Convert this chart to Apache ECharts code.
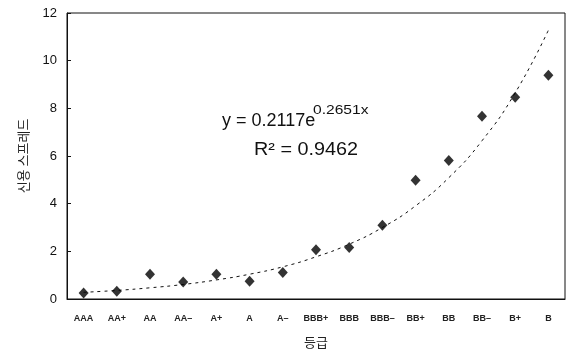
<!DOCTYPE html>
<html>
<head>
<meta charset="utf-8">
<script src="https://cdn.jsdelivr.net/npm/echarts@6/dist/echarts.min.js"></script>
<style>
html,body{margin:0;padding:0;background:#fff;}
#main{width:566px;height:354px;}
</style>
</head>
<body>
<div id="main"></div>
<script>
// 등급 (rating grades)
var grades = ['AAA','AA+','AA','AA\u2013','A+','A','A\u2013','BBB+','BBB','BBB\u2013','BB+','BB','BB\u2013','B+','B'];
// 신용 스프레드 observed
var spreads = [0.25,0.32,1.04,0.71,1.04,0.74,1.11,2.07,2.16,3.09,4.98,5.81,7.67,8.46,9.39];
// dashed trend curve, read at each grade
var trendValues = [0.28,0.36,0.47,0.61,0.80,1.04,1.35,1.77,2.30,3.00,3.91,5.09,6.64,8.65,11.28];
var yTicks = [0,12,2]; // min, max, step

var chart = echarts.init(document.getElementById('main'));
var option = {
	backgroundColor:'#fff',
	animation:false,
	grid:{left:67,right:1,top:13,bottom:53,show:true,borderColor:'#111',borderWidth:1},
	xAxis:{
		type:'category',
		data:grades,
		boundaryGap:true,
		axisLine:{lineStyle:{color:'#111',width:1}},
		axisTick:{inside:true,length:4,lineStyle:{color:'#111'}},
		axisLabel:{fontSize:9,fontWeight:'bold',color:'#222',margin:15,interval:0,fontFamily:'Liberation Sans'},
		name:'등급',
		nameLocation:'middle',
		nameGap:37,
		nameTextStyle:{fontSize:13,color:'#222',fontFamily:'Noto Sans CJK KR'}
	},
	yAxis:{
		type:'value',
		min:yTicks[0],max:yTicks[1],interval:yTicks[2],
		splitLine:{show:false},
		axisLine:{show:true,lineStyle:{color:'#111',width:1}},
		axisTick:{show:true,inside:true,length:4,lineStyle:{color:'#111'}},
		axisLabel:{fontSize:13,color:'#111',margin:10,fontFamily:'Liberation Sans'},
		name:'신용 스프레드',
		nameLocation:'middle',
		nameRotate:90,
		nameGap:37,
		nameTextStyle:{fontSize:13,color:'#222',fontFamily:'Noto Sans CJK KR'}
	},
	graphic:[
		{type:'text',x:222,y:112,style:{text:'y = 0.2117e',fontSize:18,fill:'#111',fontFamily:'Liberation Sans'}},
		{type:'text',x:313,y:104,scaleX:1.2,style:{text:'0.2651x',fontSize:13,fill:'#111',fontFamily:'Liberation Sans'}},
		{type:'text',x:254,y:141,scaleX:1.1,style:{text:'R\u00b2 = 0.9462',fontSize:18,fill:'#111',fontFamily:'Liberation Sans'}}
	],
	series:[
		{
			name:'추세',
			type:'line',
			data:trendValues,
			smooth:true,
			symbol:'none',
			lineStyle:{color:'#111',width:1,type:[3,4]},
			z:2
		},
		{
			name:'신용 스프레드',
			type:'scatter',
			data:spreads,
			symbol:'diamond',
			symbolSize:[10,11],
			itemStyle:{color:'#000'},
			z:5
		}
	]
};
chart.setOption(option);
</script>
</body>
</html>
